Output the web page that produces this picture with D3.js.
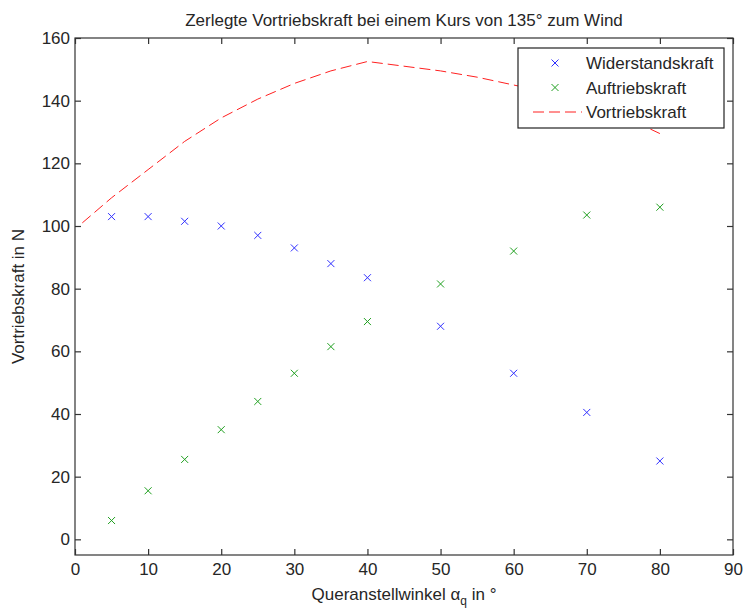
<!DOCTYPE html>
<html>
<head>
<meta charset="utf-8">
<script src="https://cdn.jsdelivr.net/npm/d3@7"></script>
<style>
  html, body { margin: 0; padding: 0; background: #fff; }
  svg text { font-family: "Liberation Sans", Arial, sans-serif; fill: #262626; }
</style>
</head>
<body>
<svg id="chart" width="743" height="609"></svg>
<script>
// Angles (degrees) at which the force components were evaluated
const angles = [5, 10, 15, 20, 25, 30, 35, 40, 50, 60, 70, 80];
const widerstand = [103, 103, 101.5, 100, 97, 93, 88, 83.5, 68, 53, 40.5, 25];
const auftrieb = [6, 15.5, 25.5, 35, 44, 53, 61.5, 69.5, 81.5, 92, 103.5, 106];

// Resulting thrust curve
const vortriebAngles = [1, 5, 10, 15, 20, 25, 30, 35, 40, 45, 50, 55, 60, 65, 70, 75, 80];
const vortrieb = [101, 109, 118, 127, 134.5, 140.5, 145.5, 149.5, 152.5, 151, 149.5, 147.5, 145, 142.5, 139.5, 135, 129.5];

const xTicks = [0, 10, 20, 30, 40, 50, 60, 70, 80, 90];
const yTicks = [0, 20, 40, 60, 80, 100, 120, 140, 160];

const titleText = "Zerlegte Vortriebskraft bei einem Kurs von 135° zum Wind";
const yLabelText = "Vortriebskraft in N";
const legendItems = [
  { name: "Widerstandskraft", type: "x", color: "#3030ff" },
  { name: "Auftriebskraft", type: "x", color: "#20a020" },
  { name: "Vortriebskraft", type: "line", color: "#ff2020" }
];

const svg = d3.select("#chart");
const plotLeft = 75, plotRight = 733, plotTop = 38, plotBottom = 555;
const fontSize = 17;

const x = d3.scaleLinear().domain([0, 90]).range([plotLeft, plotRight]);
const y = d3.scaleLinear().domain([-5, 160]).range([plotBottom, plotTop]);

const axisColor = "#333";
const tickLen = 6;

// Box
svg.append("rect")
  .attr("x", plotLeft).attr("y", plotTop)
  .attr("width", plotRight - plotLeft).attr("height", plotBottom - plotTop)
  .attr("fill", "none").attr("stroke", axisColor).attr("stroke-width", 1.2);

// Axes with inward ticks on all four sides
const styleAxis = g => {
  g.select(".domain").remove();
  g.selectAll(".tick line").attr("stroke", axisColor).attr("stroke-width", 1.2);
  g.selectAll(".tick text").attr("font-size", fontSize).attr("fill", "#262626")
    .attr("font-family", "Liberation Sans, Arial, sans-serif");
};

svg.append("g").attr("transform", `translate(0,${plotBottom})`)
  .call(d3.axisBottom(x).tickValues(xTicks).tickSize(-tickLen).tickPadding(8).tickFormat(d3.format("d")))
  .call(styleAxis);
svg.append("g").attr("transform", `translate(0,${plotTop})`)
  .call(d3.axisTop(x).tickValues(xTicks).tickSize(-tickLen).tickFormat(""))
  .call(styleAxis);
svg.append("g").attr("transform", `translate(${plotLeft},0)`)
  .call(d3.axisLeft(y).tickValues(yTicks).tickSize(-tickLen).tickPadding(5).tickFormat(d3.format("d")))
  .call(styleAxis);
svg.append("g").attr("transform", `translate(${plotRight},0)`)
  .call(d3.axisRight(y).tickValues(yTicks).tickSize(-tickLen).tickFormat(""))
  .call(styleAxis);

// Thrust curve (dashed)
const line = d3.line().x((d, i) => x(vortriebAngles[i])).y(d => y(d));
svg.append("path")
  .datum(vortrieb)
  .attr("d", line)
  .attr("fill", "none")
  .attr("stroke", "#ff2020")
  .attr("stroke-width", 1)
  .attr("stroke-dasharray", "11,5");

// Cross markers
function crosses(values, color) {
  const s = 3.5;
  svg.append("g").selectAll("path")
    .data(values)
    .join("path")
    .attr("d", (d, i) => {
      const cx = x(angles[i]), cy = y(d);
      return `M${cx - s},${cy - s}L${cx + s},${cy + s}M${cx - s},${cy + s}L${cx + s},${cy - s}`;
    })
    .attr("stroke", color)
    .attr("stroke-width", 1)
    .attr("fill", "none");
}
crosses(widerstand, "#3030ff");
crosses(auftrieb, "#20a020");

// Title
svg.append("text")
  .attr("x", (plotLeft + plotRight) / 2).attr("y", 26)
  .attr("text-anchor", "middle").attr("font-size", fontSize)
  .text(titleText);

// X label with subscript
const xl = svg.append("text")
  .attr("x", (plotLeft + plotRight) / 2).attr("y", 600)
  .attr("text-anchor", "middle").attr("font-size", fontSize);
xl.append("tspan").text("Queranstellwinkel α");
xl.append("tspan").attr("dy", 5).attr("font-size", 12).text("q");
xl.append("tspan").attr("dy", -5).text(" in °");

// Y label
svg.append("text")
  .attr("transform", `translate(24,${(plotTop + plotBottom) / 2}) rotate(-90)`)
  .attr("text-anchor", "middle").attr("font-size", fontSize)
  .text(yLabelText);

// Legend
const lg = svg.append("g");
const lx = 518, ly = 48, lw = 206, lh = 80;
lg.append("rect").attr("x", lx).attr("y", ly).attr("width", lw).attr("height", lh)
  .attr("fill", "#fff").attr("stroke", "#222").attr("stroke-width", 1.2);
legendItems.forEach((it, i) => {
  const cy = ly + 15 + i * 24.5;
  if (it.type === "x") {
    const s = 3.5, cx = 555;
    lg.append("path")
      .attr("d", `M${cx - s},${cy - s}L${cx + s},${cy + s}M${cx - s},${cy + s}L${cx + s},${cy - s}`)
      .attr("stroke", it.color).attr("stroke-width", 1);
  } else {
    lg.append("line").attr("x1", 533).attr("x2", 582).attr("y1", cy).attr("y2", cy)
      .attr("stroke", it.color).attr("stroke-width", 1).attr("stroke-dasharray", "11,5");
  }
  lg.append("text").attr("x", 586).attr("y", cy + 6).attr("font-size", fontSize).text(it.name);
});
</script>
</body>
</html>
